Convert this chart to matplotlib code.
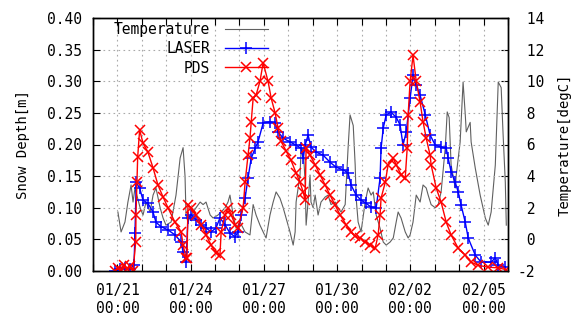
#!/usr/bin/env python3
"""
Snow depth (LASER / PDS) and air temperature, gnuplot-like dual axis chart
"""

import numpy as np
import matplotlib
matplotlib.use('Agg')
import matplotlib.pyplot as plt
import matplotlib.dates as mdates
from matplotlib.ticker import FixedLocator, FuncFormatter

# ---- data (days counted from 01/20 00:00) ----
start_date = '2015-01-20T00:00'
label_dates = ['2015-01-21', '2015-01-24', '2015-01-27', '2015-01-30', '2015-02-02', '2015-02-05']

pds_day = [0.90, 1.02, 1.15, 1.27, 1.39, 1.52, 1.64, 1.75, 1.76, 1.80, 1.83, 1.91, 2.05, 2.25,
           2.46, 2.66, 2.87, 3.07, 3.36, 3.61, 3.69, 3.81, 3.85, 3.89, 4.02, 4.22, 4.43, 4.63,
           4.84, 5.04, 5.20, 5.25, 5.41, 5.53, 5.66, 5.82, 5.94, 6.15, 6.23, 6.35, 6.43, 6.48,
           6.56, 6.68, 6.84, 6.97, 7.17, 7.30, 7.46, 7.58, 7.70, 7.91, 8.11, 8.32, 8.48, 8.61,
           8.69, 8.73, 8.89, 9.10, 9.30, 9.51, 9.71, 9.92, 10.12, 10.37, 10.57, 10.74, 10.94,
           11.15, 11.35, 11.56, 11.68, 11.76, 11.80, 11.97, 12.09, 12.30, 12.42, 12.62, 12.79,
           12.87, 12.91, 12.99, 13.11, 13.24, 13.40, 13.52, 13.65, 13.81, 13.85, 14.06, 14.26,
           14.47, 14.67, 14.96, 15.25, 15.49, 15.78, 16.19, 16.60, 16.93]
pds_depth = [0.000, 0.005, 0.000, 0.010, 0.003, 0.008, 0.000, 0.046, 0.089, 0.140, 0.180, 0.223,
             0.202, 0.188, 0.163, 0.136, 0.117, 0.100, 0.077, 0.062, 0.041, 0.021, 0.020, 0.104,
             0.100, 0.089, 0.073, 0.057, 0.041, 0.028, 0.025, 0.062, 0.089, 0.100, 0.089, 0.073,
             0.068, 0.100, 0.140, 0.183, 0.210, 0.235, 0.273, 0.278, 0.300, 0.329, 0.300, 0.273,
             0.250, 0.226, 0.205, 0.190, 0.175, 0.155, 0.140, 0.125, 0.112, 0.195, 0.183, 0.168,
             0.152, 0.136, 0.120, 0.104, 0.089, 0.073, 0.062, 0.055, 0.052, 0.046, 0.041, 0.036,
             0.057, 0.089, 0.115, 0.140, 0.168, 0.178, 0.168, 0.152, 0.147, 0.194, 0.247, 0.300,
             0.341, 0.300, 0.267, 0.236, 0.210, 0.183, 0.168, 0.131, 0.109, 0.077, 0.057, 0.036,
             0.025, 0.014, 0.009, 0.006, 0.005, 0.002]

laser_day = [0.90, 1.11, 1.31, 1.52, 1.68, 1.72, 1.77, 1.91, 2.05, 2.25, 2.46, 2.58, 2.79, 3.07,
             3.36, 3.61, 3.69, 3.81, 3.89, 4.02, 4.22, 4.43, 4.63, 4.84, 5.04, 5.20, 5.41, 5.61,
             5.82, 5.94, 6.07, 6.23, 6.35, 6.48, 6.64, 6.76, 6.97, 7.25, 7.46, 7.58, 7.79, 8.07,
             8.32, 8.52, 8.61, 8.69, 8.81, 8.93, 9.14, 9.43, 9.71, 9.96, 10.25, 10.45, 10.57,
             10.78, 10.98, 11.19, 11.39, 11.60, 11.76, 11.80, 11.89, 12.01, 12.21, 12.42, 12.58,
             12.70, 12.83, 12.99, 13.11, 13.24, 13.40, 13.61, 13.81, 14.02, 14.26, 14.47, 14.55,
             14.67, 14.84, 14.96, 15.08, 15.25, 15.37, 15.66, 15.90, 16.31, 16.48, 16.60, 16.89]
laser_depth = [0.000, 0.003, 0.005, 0.003, 0.010, 0.060, 0.140, 0.131, 0.112, 0.107, 0.093, 0.077,
               0.070, 0.065, 0.057, 0.046, 0.030, 0.014, 0.084, 0.089, 0.081, 0.073, 0.068, 0.062,
               0.068, 0.084, 0.073, 0.060, 0.054, 0.062, 0.089, 0.115, 0.147, 0.178, 0.194, 0.204,
               0.234, 0.236, 0.234, 0.220, 0.210, 0.204, 0.199, 0.194, 0.178, 0.199, 0.215, 0.196,
               0.188, 0.183, 0.172, 0.164, 0.160, 0.155, 0.136, 0.120, 0.112, 0.107, 0.101, 0.100,
               0.147, 0.194, 0.226, 0.247, 0.251, 0.243, 0.231, 0.199, 0.220, 0.273, 0.310, 0.294,
               0.278, 0.247, 0.215, 0.199, 0.196, 0.194, 0.178, 0.157, 0.140, 0.125, 0.104, 0.077,
               0.052, 0.025, 0.014, 0.014, 0.021, 0.009, 0.006]

temp_day = [1.02, 1.15, 1.31, 1.43, 1.56, 1.64, 1.72, 1.93, 2.05, 2.17, 2.34, 2.46, 2.58, 2.75,
            2.87, 2.99, 3.20, 3.40, 3.57, 3.69, 3.77, 3.81, 3.89, 4.02, 4.22, 4.39, 4.51, 4.63,
            4.80, 4.92, 5.12, 5.25, 5.41, 5.53, 5.61, 5.74, 5.86, 6.02, 6.23, 6.43, 6.56, 6.68,
            6.84, 6.97, 7.09, 7.25, 7.38, 7.50, 7.66, 7.79, 7.91, 8.07, 8.20, 8.28, 8.32, 8.48,
            8.52, 8.61, 8.69, 8.73, 8.81, 8.89, 8.93, 9.02, 9.10, 9.22, 9.34, 9.51, 9.63, 9.75,
            9.92, 10.04, 10.16, 10.33, 10.45, 10.53, 10.66, 10.74, 10.78, 10.86, 10.98, 11.15,
            11.27, 11.39, 11.48, 11.60, 11.76, 11.89, 12.01, 12.17, 12.30, 12.42, 12.50, 12.62,
            12.79, 12.91, 12.99, 13.11, 13.24, 13.40, 13.52, 13.65, 13.73, 13.85, 14.02, 14.14,
            14.26, 14.43, 14.51, 14.59, 14.67, 14.84, 14.88, 15.04, 15.16, 15.25, 15.29, 15.45,
            15.49, 15.66, 15.86, 16.07, 16.19, 16.31, 16.48, 16.60, 16.72, 16.80, 16.89, 16.93]
temp_c = [1.73, 0.47, 1.10, 2.36, 3.44, 2.36, 3.25, 2.00, 1.54, 2.36, 1.73, 2.80, 3.25, 2.00,
          1.35, 0.90, 1.10, 2.80, 5.15, 5.80, 4.00, 1.54, 1.10, 1.54, 2.00, 2.36, 2.20, 2.36,
          1.54, 1.35, 1.54, 1.73, 2.00, 2.36, 2.80, 1.54, 0.70, 1.10, 0.47, 0.28, 2.20, 1.54,
          0.90, 0.47, 0.09, 1.54, 2.36, 3.00, 2.60, 2.00, 1.35, 0.47, -0.36, 0.47, 2.36, 4.07,
          5.50, 5.80, 3.60, 0.90, 2.36, 4.07, 2.36, 2.00, 2.80, 1.54, 2.36, 2.68, 2.80, 2.20,
          2.36, 2.00, 1.73, 2.20, 5.80, 7.87, 7.20, 4.70, 2.60, 1.10, 0.47, 2.36,
          3.25, 2.80, 3.00, 1.54, 0.70, -0.17, -0.36, -0.17, 0.09, 1.10, 1.73, 1.35,
          0.47, 0.09, 0.28, 1.10, 2.80, 2.36, 3.44, 3.25, 2.80, 2.20, 2.00, 2.20,
          3.00, 5.80, 8.06, 7.70, 4.70, 3.25, 4.07, 6.16, 9.95, 7.87, 6.80, 7.40,
          6.16, 4.50, 2.80, 1.35, 0.90, 1.73, 4.70, 9.95, 9.60, 6.60, 3.60, 0.90]


def to_num(days):
    t0 = mdates.date2num(np.datetime64(start_date))
    return t0 + np.asarray(days)


def main():
    plt.rcParams['font.family'] = ['DejaVu Sans Mono']
    plt.rcParams['axes.unicode_minus'] = False

    fig = plt.figure(figsize=(5.83, 3.2), dpi=100)
    ax = fig.add_axes([93 / 583, 49 / 320, 415 / 583, 253 / 320])
    ax2 = ax.twinx()

    # temperature under the snow series
    ax.set_zorder(ax2.get_zorder() + 1)
    ax.patch.set_visible(False)

    h_t, = ax2.plot(to_num(temp_day), temp_c, color='#606060', linewidth=0.8, label='Temperature')
    h_l, = ax.plot(to_num(laser_day), laser_depth, color='blue', linewidth=1.0, marker='+',
                   markersize=8, markeredgewidth=1.1, label='LASER')
    h_p, = ax.plot(to_num(pds_day), pds_depth, color='red', linewidth=1.0, marker='x',
                   markersize=7, markeredgewidth=1.1, label='PDS')

    # axes ranges
    ax.set_xlim(to_num([0, 17]))
    ax.set_ylim(0, 0.40)
    ax2.set_ylim(-2, 14)

    # ticks
    major = [mdates.date2num(np.datetime64(d)) for d in label_dates]
    ax.xaxis.set_major_locator(FixedLocator(major))
    ax.xaxis.set_minor_locator(FixedLocator(to_num(np.arange(0, 18))))
    ax.xaxis.set_major_formatter(mdates.DateFormatter('%m/%d\n%H:%M'))
    ax.set_yticks(np.arange(0, 0.401, 0.05))
    ax.yaxis.set_major_formatter(FuncFormatter(lambda v, p: f'{v:.2f}'))
    ax2.set_yticks(np.arange(-2, 15, 2))
    ax2.yaxis.set_major_formatter(FuncFormatter(lambda v, p: f'{int(round(v)):d}' if v < 0 else f' {int(round(v)):d}'))

    ax.tick_params(axis='x', which='both', direction='in', top=True, length=5, width=0.8,
                   labelsize=10.5, pad=9)
    ax.tick_params(axis='y', direction='in', length=5, width=0.8, labelsize=10.5, pad=8)
    ax2.tick_params(axis='y', direction='in', length=5, width=0.8, labelsize=10.5, pad=7)
    for t in ax2.get_yticklabels():
        t.set_horizontalalignment('left')

    ax.grid(True, which='both', axis='x', linestyle=(0, (1.5, 3)), color='#aaaaaa', linewidth=0.8)
    ax.grid(True, which='major', axis='y', linestyle=(0, (1.5, 3)), color='#aaaaaa', linewidth=0.8)

    ax.set_ylabel('Snow Depth[m]', fontsize=10, labelpad=12)
    ax2.set_ylabel('Temperature[degC]', fontsize=10, labelpad=10)

    ax.legend([h_t, h_l, h_p], ['Temperature', 'LASER', 'PDS'], loc='upper left',
              bbox_to_anchor=(0.05, 0.985), frameon=False, markerfirst=False,
              handlelength=3.0, handletextpad=1.0, numpoints=1, fontsize=10.5,
              borderpad=0, borderaxespad=0, labelspacing=0.3)

    for a in (ax, ax2):
        for s in a.spines.values():
            s.set_linewidth(1.0)

    fig.savefig('out.png', dpi=100, facecolor='white')
    plt.close(fig)


if __name__ == '__main__':
    main()
